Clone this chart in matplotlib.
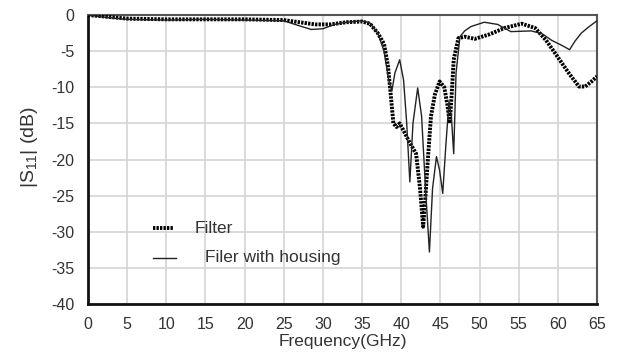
import numpy as np
import matplotlib
matplotlib.use('Agg')
from matplotlib import pyplot as plt

plt.rcParams['font.family'] = ['Liberation Sans', 'DejaVu Sans']
plt.rcParams['axes.unicode_minus'] = False
plt.rcParams['mathtext.fontset'] = 'custom'
plt.rcParams['mathtext.rm'] = 'Liberation Sans'
plt.rcParams['mathtext.it'] = 'Liberation Sans'

# Filter (thick dotted)
filter_f = [0, 2, 5, 10, 15, 20, 25, 27, 29, 31, 33, 35, 36, 37, 37.8, 38.3, 38.7,
            39.0, 39.4, 39.8, 40.3, 41.0, 41.9, 42.4, 42.8, 43.1, 43.4, 43.8, 44.3,
            44.9, 45.5, 45.9, 46.2, 46.5, 46.7, 47.3, 48.1, 49.4, 51.2, 53.2, 55.4,
            57.1, 58.5, 60.1, 61.5, 62.7, 63.5, 64.3, 65]
filter_db = [0, -0.2, -0.5, -0.6, -0.6, -0.6, -0.7, -1.0, -1.3, -1.3, -1.0, -0.9,
             -1.2, -2.5, -4.0, -7.0, -11.5, -15.0, -15.5, -15.0, -16.0, -17.5, -19.2,
             -24.0, -29.3, -25.0, -20.0, -14.0, -11.0, -9.2, -10.0, -12.5, -15.0,
             -10.0, -6.2, -3.2, -3.0, -3.3, -2.7, -1.8, -1.2, -1.8, -3.5, -6.0, -8.2,
             -9.9, -9.9, -9.2, -8.5]

# Filter with housing (thin solid)
housing_f = [0, 2, 5, 10, 15, 20, 25, 27, 28.5, 30, 31.5, 33, 35, 36, 37, 37.8,
             38.4, 38.8, 39.2, 39.8, 40.3, 40.7, 41.1, 41.5, 42.1, 42.6, 43.1, 43.6,
             44.0, 44.5, 44.9, 45.3, 45.7, 46.1, 46.4, 46.7, 47.0, 47.5, 48.1, 48.9,
             50.6, 52.3, 54, 56.6, 58, 59.2, 60.5, 61.5, 62.2, 63, 64, 65]
housing_db = [0, -0.3, -0.6, -0.7, -0.6, -0.7, -0.8, -1.5, -2.0, -1.9, -1.3, -1.0,
              -0.8, -1.1, -2.5, -5.0, -9.0, -10.5, -8.0, -6.2, -9.0, -15.0, -23.1,
              -15.0, -10.1, -14.0, -24.0, -32.8, -24.0, -19.6, -21.5, -24.7, -18.0,
              -12.0, -14.0, -19.2, -8.0, -3.0, -2.2, -1.6, -1.0, -1.3, -2.3, -2.2,
              -2.6, -3.5, -4.2, -4.8, -3.6, -2.5, -1.6, -0.8]

fig = plt.figure(figsize=(6.25, 3.59), dpi=100)
ax = fig.add_axes([0.1408, 0.1532, 0.8144, 0.805])

ax.plot(filter_f, filter_db, color='black', lw=2.8, ls=(0, (0.6, 0.3)), zorder=3)
ax.plot(housing_f, housing_db, color='#222222', lw=1.0, zorder=4)

ax.set_xlim(0, 65)
ax.set_ylim(-40, 0)
ax.set_xticks(np.arange(0, 66, 5))
ax.set_yticks(np.arange(-40, 1, 5))
ax.grid(True, color='#d4d4d4', lw=1.2)
ax.set_axisbelow(True)
ax.tick_params(length=0, labelsize=11.5, colors='#333333')
ax.tick_params(axis='y', pad=10)
ax.tick_params(axis='x', pad=9)

for side in ['left', 'bottom']:
    ax.spines[side].set_linewidth(2.0)
    ax.spines[side].set_color('#111111')
for side in ['top', 'right']:
    ax.spines[side].set_linewidth(1.5)
    ax.spines[side].set_color('#555555')

ax.set_xlabel('Frequency(GHz)', fontsize=12.5, color='#333333', labelpad=2)
ax.set_ylabel('|S$_{11}$| (dB)', fontsize=14, color='#333333')
ax.yaxis.set_label_coords(-0.095, 0.543)

# legend drawn by hand
ax.plot([8.3, 11.0], [-29.5, -29.5], color='black', lw=2.8, ls=(0, (0.6, 0.3)))
ax.text(13.6, -29.5, 'Filter', fontsize=12.5, va='center', color='#333333')
ax.plot([8.3, 11.3], [-33.6, -33.6], color='#222222', lw=1.0)
ax.text(14.9, -33.6, 'Filer with housing', fontsize=12.5, va='center', color='#333333')

fig.savefig('out.png', dpi=100)
